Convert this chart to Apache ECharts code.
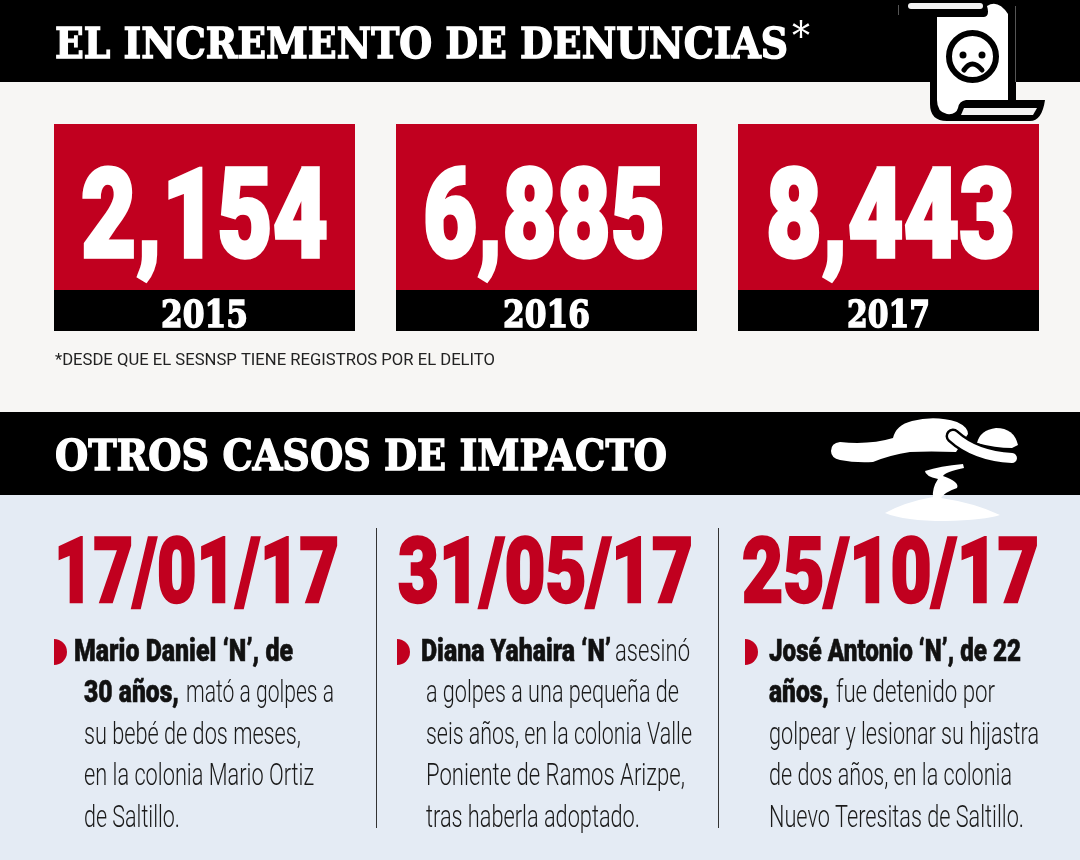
<!DOCTYPE html>
<html>
<head>
<meta charset="utf-8">
<style>html,body{margin:0;padding:0;background:#e4ebf4}#chart{width:1080px;height:860px}</style>
<script src="https://cdn.jsdelivr.net/npm/echarts@6/dist/echarts.min.js"></script>
</head>
<body>
<div id="chart"></div>
<script>
// data
var years = ['2015', '2016', '2017'];
var complaints = [2154, 6885, 8443];
var titleTop = 'EL INCREMENTO DE DENUNCIAS';
var titleBottom = 'OTROS CASOS DE IMPACTO';
var footnote = '*DESDE QUE EL SESNSP TIENE REGISTROS POR EL DELITO';
var caseDates = ['17/01/17', '31/05/17', '25/10/17'];
var caseBold = [
  ['Mario Daniel ‘N’, de', '30 años,', '', '', ''],
  ['Diana Yahaira ‘N’', '', '', '', ''],
  ['José Antonio ‘N’, de 22', 'años,', '', '', '']
];
var casePlain = [
  ['', 'mató a golpes a', 'su bebé de dos meses,', 'en la colonia Mario Ortiz', 'de Saltillo.'],
  ['asesinó', 'a golpes a una pequeña de', 'seis años, en la colonia Valle', 'Poniente de Ramos Arizpe,', 'tras haberla adoptado.'],
  ['', 'fue detenido por', 'golpear y lesionar su hijastra', 'de dos años, en la colonia', 'Nuevo Teresitas de Saltillo.']
];

// layout, x ranges are what each run spans in the reference
var RED = '#c1001f';
var numberX = [[81, 328], [423, 665], [766, 1015]];
var yearX = [[161, 248], [503, 590], [847, 930]];
var dateX = [[54, 339], [398, 693], [742, 1039]];
var bulletX = [54, 397, 745];
var lineY = [653, 694, 736, 777, 819];
var boldX = [
  [[74, 293], [84, 179]],
  [[421, 611]],
  [[769, 1021], [769, 829]]
];
var plainX = [
  [null, [186, 334], [84, 301], [84, 314], [84, 180]],
  [[615, 690], [426, 679], [426, 692], [426, 685], [426, 640]],
  [null, [836, 995], [769, 1039], [769, 1012], [769, 1024]]
];

var FONT_BODY = '300 32px Roboto';
var FONT_BOLD = '900 32px Roboto';
var FONT_BIG = '900 124px Roboto';
var FONT_DATE = '900 90px Roboto';
var FONT_YEAR = 'bold 37px "DejaVu Serif"';
var FONT_HEAD = 'bold 42px "DejaVu Serif"';

var ctx = document.createElement('canvas').getContext('2d');

// text element squeezed to span x0..x1, weight is an extra outline for the heavy faces
function fitText(text, x0, x1, y, font, fill, weight) {
  ctx.font = font;
  var style = { text: text, x: 0, y: 0, font: font, fill: fill, textAlign: 'left', textVerticalAlign: 'middle' };
  if (weight) {
    style.stroke = fill;
    style.lineWidth = weight;
  }
  return {
    type: 'text',
    x: x0,
    y: y,
    scaleX: (x1 - x0) / ctx.measureText(text).width,
    z: 5,
    style: style
  };
}

function rect(x, y, w, h, fill, z) {
  return { type: 'rect', z: z || 0, shape: { x: x, y: y, width: w, height: h }, style: { fill: fill } };
}

// graphic has no plain path type, so every icon outline gets registered as a shape
var pathCount = 0;
function path(d, fill, z, stroke, lineWidth) {
  var name = 'iconPath' + (pathCount++);
  echarts.graphic.registerShape(name, echarts.graphic.extendPath(d, {}));
  return {
    type: name, z: z,
    style: { fill: fill, stroke: stroke || null, lineWidth: lineWidth || 0, lineCap: 'round' }
  };
}

function scrollIcon() {
  return [
    rect(1015, 6, 1, 76, '#555', 6),
    rect(898, 5, 1, 10, '#555', 6),
    path('M930 82V104Q930 121 947 121H1030Q1042 121 1045 100H1016V82Z', '#000', 6),
    path('M937 17H984Q990 16 987 6Q998 -1 1008 14V100H966Q959 101 958 108Q956 115 947 114Q937 112 937 100Z', '#fff', 7),
    { type: 'rect', z: 7, shape: { x: 908, y: 3, width: 75, height: 6, r: 3 }, style: { fill: '#f2f2f2' } },
    path('M964 108H1037L1033 115H961Z', '#f2f2f2', 7),
    { type: 'circle', z: 8, shape: { cx: 972.5, cy: 56.5, r: 23.5 }, style: { fill: '#fff', stroke: '#000', lineWidth: 6 } },
    { type: 'circle', z: 8, shape: { cx: 963, cy: 55, r: 3.5 }, style: { fill: '#000' } },
    { type: 'circle', z: 8, shape: { cx: 982, cy: 55, r: 3.5 }, style: { fill: '#000' } },
    path('M964 70Q972 58 982 70', 'none', 8, '#000', 5)
  ];
}

function bodyIcon() {
  return [
    path('M840 442Q870 445 893 438Q896 425 912 421Q935 415 957 422Q968 427 968 434L956 452Q930 451 910 452Q890 455 873 462Q855 463 840 460Q831 458 831 451Q831 443 840 442Z', '#fff', 6),
    path('M977 443Q980 430 996 428Q1014 428 1018 445L1012 448Q995 448 977 443Z', '#fff', 6),
    path('M953 436Q975 456 1012 458', 'none', 7, '#000', 15),
    path('M953 436Q975 456 1012 458', 'none', 8, '#fff', 10),
    path('M963 464Q940 466 925 471Q925 476 938 479Q932 488 933 497Q905 502 885 513Q905 521 945 521Q985 520 1000 515Q975 503 941 498Q945 492 957 488Q960 482 943 476Q945 472 964 468Z', '#fff', 6)
  ];
}

var elements = [
  rect(0, 82, 1080, 330, '#f7f6f4'),
  rect(0, 495, 1080, 365, '#e4ebf4'),
  rect(0, 0, 1080, 82, '#000'),
  rect(0, 412, 1080, 83, '#000'),
  fitText(titleTop, 55, 788, 47, FONT_HEAD, '#fff', 1.4),
  fitText('*', 792, 810, 39, '300 40px "DejaVu Serif"', '#fff'),
  fitText(titleBottom, 55, 667, 459, FONT_HEAD, '#fff', 1.4),
  fitText(footnote, 55, 495, 361, '400 17px Roboto', '#222'),
  rect(376, 528, 1, 300, '#333', 1),
  rect(718, 528, 1, 300, '#333', 1)
].concat(scrollIcon(), bodyIcon());

caseDates.forEach(function (d, c) {
  elements.push(fitText(d, dateX[c][0], dateX[c][1], 579.5, FONT_DATE, RED, 2.5));
  elements.push({
    type: 'sector', z: 4,
    shape: { cx: bulletX[c], cy: 652, r: 13, r0: 0, startAngle: -Math.PI / 2, endAngle: Math.PI / 2 },
    style: { fill: RED }
  });
  caseBold[c].forEach(function (t, i) {
    if (t) elements.push(fitText(t, boldX[c][i][0], boldX[c][i][1], lineY[i], FONT_BOLD, '#111', 0.6));
  });
  casePlain[c].forEach(function (t, i) {
    if (t) elements.push(fitText(t, plainX[c][i][0], plainX[c][i][1], lineY[i], FONT_BODY, '#1a1a1a'));
  });
});

function renderCard(params, api) {
  var i = params.dataIndex;
  var cx = api.coord([api.value(0), 0])[0];
  var w = api.size([1, 0])[0] - 41;
  var box = params.coordSys;
  var left = cx - w / 2;
  var num = complaints[i].toLocaleString('en-US');
  return {
    type: 'group',
    children: [
      { type: 'rect', shape: { x: left, y: box.y, width: w, height: box.height - 41 }, style: { fill: RED } },
      { type: 'rect', shape: { x: left, y: box.y + box.height - 41, width: w, height: 41 }, style: { fill: '#000' } },
      fitText(num, numberX[i][0], numberX[i][1], 226, FONT_BIG, '#fff', 3.5),
      fitText(years[i], yearX[i][0], yearX[i][1], 317, FONT_YEAR, '#fff', 1.5)
    ]
  };
}

var myChart = echarts.init(document.getElementById('chart'), null, { renderer: 'canvas' });
myChart.setOption({
  animation: false,
  backgroundColor: '#e4ebf4',
  grid: { left: 33.5, width: 1026, top: 124, height: 207 },
  xAxis: { type: 'category', data: years, show: false },
  yAxis: { type: 'value', min: 0, max: 10000, show: false },
  graphic: { elements: elements },
  series: [{
    type: 'custom',
    z: 3,
    renderItem: renderCard,
    encode: { x: 0, y: 1 },
    data: complaints.map(function (v, i) { return [i, v]; })
  }]
});
</script>
</body>
</html>
